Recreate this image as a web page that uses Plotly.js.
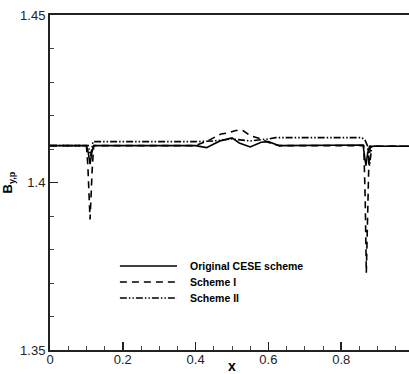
<!DOCTYPE html>
<html>
<head>
<meta charset="utf-8">
<script src="https://cdn.plot.ly/plotly-3.0.1.min.js"></script>
<style>
  html, body { margin: 0; padding: 0; background: #fff; overflow: hidden; }
  #chart { width: 420px; height: 374px; }
</style>
</head>
<body>
<div id="chart"></div>
<script>
// B profile along x for the three schemes
const seriesNames = ['Original CESE scheme', 'Scheme I', 'Scheme II'];

const xOriginal = [0, 0.100, 0.105, 0.110, 0.115, 0.120, 0.400, 0.430, 0.450, 0.470, 0.500, 0.520, 0.550, 0.580, 0.600, 0.630, 0.860, 0.863, 0.868, 0.873, 0.878, 1.0];
const bOriginal = [1.4110, 1.4110, 1.4090, 1.4055, 1.4090, 1.4110, 1.4110, 1.4104, 1.4115, 1.4125, 1.4133, 1.4118, 1.4106, 1.4120, 1.4122, 1.4110, 1.4112, 1.4090, 1.4050, 1.4090, 1.4108, 1.4108];

const xSchemeI = [0, 0.100, 0.104, 0.110, 0.116, 0.120, 0.400, 0.440, 0.470, 0.490, 0.510, 0.530, 0.550, 0.580, 0.610, 0.630, 0.862, 0.866, 0.869, 0.872, 0.876, 0.880, 1.0];
const bSchemeI = [1.4110, 1.4110, 1.4050, 1.3890, 1.4040, 1.4110, 1.4110, 1.4128, 1.4145, 1.4148, 1.4155, 1.4155, 1.4140, 1.4130, 1.4115, 1.4110, 1.4110, 1.3950, 1.3730, 1.3900, 1.4060, 1.4108, 1.4108];

const xSchemeII = [0, 0.105, 0.112, 0.118, 0.400, 0.450, 0.500, 0.550, 0.600, 0.620, 0.855, 0.865, 0.872, 0.878, 0.884, 1.0];
const bSchemeII = [1.4110, 1.4110, 1.4080, 1.4122, 1.4122, 1.4124, 1.4130, 1.4124, 1.4130, 1.4134, 1.4134, 1.4128, 1.4110, 1.4050, 1.4108, 1.4108];

const xTickVals = [0, 0.2, 0.4, 0.6, 0.8];
const xTickText = ['0', '0.2', '0.4', '0.6', '0.8'];
const yTickVals = [1.35, 1.4, 1.45];
const yTickText = ['1.35', '1.4', '1.45'];

const FONT = 'Arial, "Liberation Sans", sans-serif';
const LINE_W = 1.6;
const dashes = ['solid', '7px,5px', '7px,2px,1.5px,2px,1.5px,2px'];

const traces = seriesNames.map((name, i) => ({
  x: [xOriginal, xSchemeI, xSchemeII][i],
  y: [bOriginal, bSchemeI, bSchemeII][i],
  name: name, mode: 'lines',
  line: { color: '#000', width: LINE_W, dash: dashes[i] }
}));

// Key drawn inside the plot area: sample line plus label per series
const keyX0 = 0.192, keyX1 = 0.349, keyTextX = 0.379;
const keyRows = [0.2507, 0.2030, 0.1552];
const keyShapes = keyRows.map((y, i) => ({
  type: 'line', xref: 'paper', yref: 'paper',
  x0: keyX0, x1: keyX1, y0: y, y1: y,
  line: { color: '#000', width: LINE_W, dash: dashes[i] }
}));
const keyLabels = keyRows.map((y, i) => ({
  xref: 'paper', yref: 'paper', x: keyTextX, y: y,
  xanchor: 'left', yanchor: 'middle', showarrow: false,
  text: seriesNames[i],
  font: { family: FONT, size: 10.5, color: '#000', weight: 'bold' }
}));

const layout = {
  width: 420, height: 374,
  margin: { l: 50, r: 6, t: 15, b: 24, pad: 0 },
  paper_bgcolor: '#fff', plot_bgcolor: '#fff',
  font: { family: FONT, size: 13, color: '#222' },
  showlegend: false,
  shapes: keyShapes,
  annotations: keyLabels,
  xaxis: {
    range: [0, 1], showgrid: false, zeroline: false,
    showline: true, linecolor: '#222', linewidth: 2, mirror: true,
    ticks: 'inside', ticklen: 8, tickwidth: 1.5, tickcolor: '#222',
    tickvals: xTickVals, ticktext: xTickText,
    ticklabelstandoff: -4,
    minor: { ticks: 'inside', ticklen: 4, tickwidth: 1, tickcolor: '#444', dtick: 0.05, tick0: 0 },
    tickfont: { size: 13, color: '#222' },
    title: { text: 'x', font: { size: 14, weight: 'bold', color: '#000' }, standoff: 4 },
    automargin: false
  },
  yaxis: {
    range: [1.35, 1.45], showgrid: false, zeroline: false,
    showline: true, linecolor: '#222', linewidth: 2, mirror: false,
    ticks: 'inside', ticklen: 8, tickwidth: 1.5, tickcolor: '#222',
    tickvals: yTickVals, ticktext: yTickText,
    minor: { ticks: 'inside', ticklen: 4, tickwidth: 1, tickcolor: '#444', dtick: 0.01, tick0: 1.35 },
    tickfont: { size: 13, color: '#222' },
    title: { text: 'B<sub>y,p</sub>', font: { size: 13, weight: 'bold', color: '#000' }, standoff: 6 },
    automargin: false
  }
};

Plotly.newPlot('chart', traces, layout, { staticPlot: true, displayModeBar: false });
</script>
</body>
</html>
